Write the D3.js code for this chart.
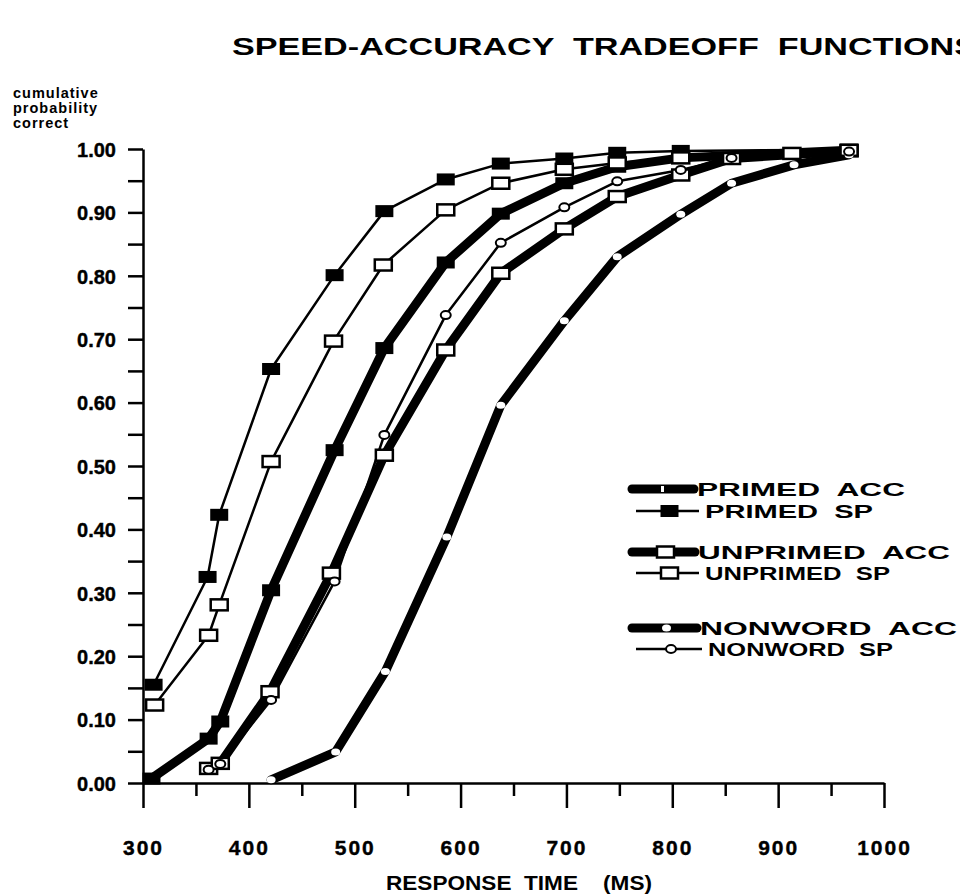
<!DOCTYPE html>
<html>
<head>
<meta charset="utf-8">
<script src="https://cdn.jsdelivr.net/npm/d3@7"></script>
<style>
  body { margin: 0; background: #fff; }
  svg { display: block; font-family: "Liberation Sans", Arial, sans-serif; font-weight: bold; }
</style>
</head>
<body>
<svg width="960" height="896"></svg>
<script>
// response times (ms) and cumulative probability correct
var primedAccX = [308, 362, 373, 421, 481, 528, 586, 638, 698, 748, 808, 967],
    primedAccY = [0.007, 0.070, 0.097, 0.304, 0.525, 0.686, 0.821, 0.898, 0.946, 0.972, 0.986, 0.998];
var primedSpX = [310, 361, 372, 421, 481, 528, 586, 638, 698, 748, 808, 967],
    primedSpY = [0.155, 0.325, 0.423, 0.653, 0.801, 0.902, 0.952, 0.977, 0.985, 0.994, 0.997, 0.999];
var unprimedAccX = [362, 373, 420, 478, 528, 586, 638, 698, 748, 808, 856, 967],
    unprimedAccY = [0.023, 0.031, 0.144, 0.331, 0.517, 0.683, 0.804, 0.874, 0.925, 0.959, 0.985, 0.997];
var unprimedSpX = [311, 362, 372, 421, 480, 527, 586, 638, 698, 748, 808, 913, 967],
    unprimedSpY = [0.123, 0.233, 0.281, 0.507, 0.697, 0.817, 0.904, 0.946, 0.968, 0.978, 0.986, 0.993, 0.998];
var nonwordAccX = [421, 482, 529, 587, 638, 698, 748, 808, 856, 915, 967],
    nonwordAccY = [0.005, 0.049, 0.176, 0.388, 0.596, 0.729, 0.830, 0.897, 0.946, 0.975, 0.991];
var nonwordSpX = [362, 373, 421, 481, 528, 586, 638, 698, 748, 808, 856, 967],
    nonwordSpY = [0.021, 0.030, 0.131, 0.318, 0.549, 0.738, 0.852, 0.908, 0.949, 0.967, 0.986, 0.996];

var seriesNames = ["PRIMED  ACC", "PRIMED  SP", "UNPRIMED  ACC", "UNPRIMED  SP", "NONWORD  ACC", "NONWORD  SP"];
var xTicks = d3.range(300, 1001, 50),
    yTicks = d3.range(0, 1.0001, 0.05);

var svg = d3.select("svg");

var x = d3.scaleLinear().domain([300, 1000]).range([143, 884]),
    y = d3.scaleLinear().domain([0, 1]).range([783, 149]);

function zip(xs, ys) { return xs.map(function(v, i) { return [v, ys[i]]; }); }

// thick = accuracy curves, thin = speed curves; marker kind per condition
var series = [
  {name: seriesNames[0], data: zip(primedAccX, primedAccY), thick: true, mark: "fill"},
  {name: seriesNames[1], data: zip(primedSpX, primedSpY), thick: false, mark: "fill"},
  {name: seriesNames[2], data: zip(unprimedAccX, unprimedAccY), thick: true, mark: "open"},
  {name: seriesNames[3], data: zip(unprimedSpX, unprimedSpY), thick: false, mark: "open"},
  {name: seriesNames[4], data: zip(nonwordAccX, nonwordAccY), thick: true, mark: "dot"},
  {name: seriesNames[5], data: zip(nonwordSpX, nonwordSpY), thick: false, mark: "dot"}
];

// title
svg.append("text")
    .attr("x", 232).attr("y", 55)
    .attr("font-size", 23)
    .attr("textLength", 745).attr("lengthAdjust", "spacingAndGlyphs")
    .style("white-space", "pre")
    .text("SPEED-ACCURACY  TRADEOFF  FUNCTIONS");

// y title
["cumulative", "probability", "correct"].forEach(function(t, i) {
  svg.append("text")
      .attr("x", 13).attr("y", 98 + i * 15)
      .attr("font-size", 14.5)
      .attr("letter-spacing", 1)
      .text(t);
});

// axes
var gx = svg.append("g")
    .attr("transform", "translate(0,783)")
    .call(d3.axisBottom(x).tickValues(xTicks).tickSizeOuter(0)
      .tickFormat(function(d) { return d % 100 === 0 ? d : ""; }));
gx.selectAll(".tick line")
    .attr("y2", function(d) { return d % 100 === 0 ? 25 : 13; });
gx.selectAll(".tick text")
    .attr("y", 72).attr("dy", 0)
    .attr("font-size", 21).attr("font-family", null).attr("letter-spacing", 2)
    .attr("stroke", "#000").attr("stroke-width", 0.4);

var gy = svg.append("g")
    .attr("transform", "translate(143,0)")
    .call(d3.axisLeft(y).tickValues(yTicks).tickSize(15).tickSizeOuter(0).tickPadding(12)
      .tickFormat(function(d, i) { return i % 2 === 0 ? d3.format(".2f")(d) : ""; }));
gy.selectAll(".tick text")
    .attr("font-size", 20).attr("font-family", null).attr("dy", "0.36em")
    .attr("stroke", "#000").attr("stroke-width", 0.4);

svg.selectAll(".domain, .tick line")
    .attr("stroke", "#000").attr("stroke-width", 2.5);
svg.selectAll(".tick text").attr("fill", "#000");

// x title
svg.append("text")
    .attr("x", 386).attr("y", 890)
    .attr("font-size", 21)
    .attr("textLength", 266).attr("lengthAdjust", "spacingAndGlyphs")
    .style("white-space", "pre")
    .text("RESPONSE  TIME    (MS)");

// curves
var line = d3.line().x(function(d) { return x(d[0]); }).y(function(d) { return y(d[1]); });

function drawMark(g, kind, thick, cx, cy) {
  if (kind === "fill") {
    g.append("rect").attr("x", cx - 9).attr("y", cy - 6).attr("width", 18).attr("height", 12)
        .attr("fill", "#000");
  } else if (kind === "open") {
    g.append("rect").attr("x", cx - 8.5).attr("y", cy - 5.5).attr("width", 17).attr("height", 11)
        .attr("fill", "#fff").attr("stroke", "#000").attr("stroke-width", 2.5);
  } else {
    g.append("ellipse").attr("cx", cx).attr("cy", cy)
        .attr("rx", thick ? 4.5 : 5).attr("ry", thick ? 3.5 : 4)
        .attr("fill", "#fff").attr("stroke", thick ? "none" : "#000").attr("stroke-width", 2);
  }
}

var plot = svg.append("g");
series.forEach(function(s) {
  plot.append("path")
      .datum(s.data)
      .attr("fill", "none")
      .attr("stroke", "#000")
      .attr("stroke-width", s.thick ? 9 : 2.5)
      .attr("stroke-linejoin", "round")
      .attr("stroke-linecap", "round")
      .attr("d", line);
});
series.forEach(function(s) {
  var g = plot.append("g");
  s.data.forEach(function(d) { drawMark(g, s.mark, s.thick, x(d[0]), y(d[1])); });
});

// legend
var legY = [489, 511, 552, 573, 628, 649],
    legText = [697, 705, 698, 705, 700, 708],
    legLen = [208, 168, 252, 185, 257, 185];
var legend = svg.append("g");
series.forEach(function(s, i) {
  var cy = legY[i], x0 = s.thick ? 632 : 636, x1 = legText[i] - (s.thick ? 3 : 6);
  legend.append("line")
      .attr("x1", x0).attr("x2", x1).attr("y1", cy).attr("y2", cy)
      .attr("stroke", "#000").attr("stroke-width", s.thick ? 9 : 2.5)
      .attr("stroke-linecap", s.thick ? "round" : "butt");
  if (s.mark === "fill" && s.thick) {
    legend.append("rect").attr("x", 661).attr("y", cy - 3).attr("width", 3).attr("height", 6).attr("fill", "#fff");
  } else {
    drawMark(legend, s.mark, s.thick, (x0 + x1) / 2 + 2, cy);
  }
  legend.append("text")
      .attr("x", legText[i]).attr("y", cy + 7)
      .attr("font-size", 19)
      .attr("textLength", legLen[i]).attr("lengthAdjust", "spacingAndGlyphs")
      .style("white-space", "pre")
      .text(s.name);
});
</script>
</body>
</html>
